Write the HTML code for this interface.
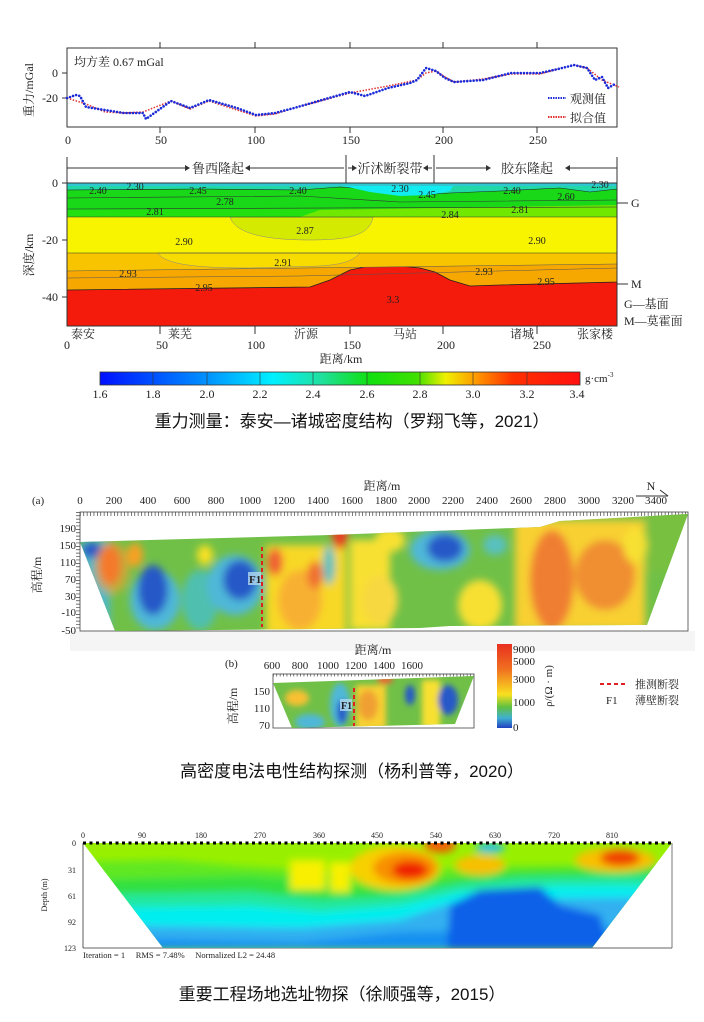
<!DOCTYPE html>
<html><head><meta charset="utf-8">
<style>
html,body{margin:0;padding:0;background:#fff;}
svg{display:block;}
text{font-family:"Liberation Serif","Noto Serif CJK SC",serif;fill:#222;}
.cap{font-family:"Liberation Sans","Noto Sans CJK SC",sans-serif;font-size:17px;fill:#111;}
</style></head>
<body>
<svg width="704" height="1022" viewBox="0 0 704 1022" xmlns="http://www.w3.org/2000/svg">
<defs>
<filter id="b4" x="-10%" y="-10%" width="120%" height="120%"><feGaussianBlur stdDeviation="4"/></filter>
<filter id="b3" x="-10%" y="-10%" width="120%" height="120%"><feGaussianBlur stdDeviation="3"/></filter>
<linearGradient id="cb" x1="0" x2="1" y1="0" y2="0">
<stop offset="0" stop-color="#0010ff"/><stop offset="0.22" stop-color="#0090ff"/>
<stop offset="0.36" stop-color="#00f0ff"/><stop offset="0.46" stop-color="#20e0a0"/>
<stop offset="0.56" stop-color="#10e010"/><stop offset="0.66" stop-color="#40e000"/>
<stop offset="0.72" stop-color="#f0f000"/><stop offset="0.79" stop-color="#ff9000"/>
<stop offset="0.86" stop-color="#ff3000"/><stop offset="1" stop-color="#ff1010"/>
</linearGradient>
<linearGradient id="cb2" x1="0" x2="0" y1="0" y2="1">
<stop offset="0" stop-color="#e83020"/><stop offset="0.3" stop-color="#f07020"/>
<stop offset="0.6" stop-color="#f8e020"/><stop offset="0.75" stop-color="#60c040"/>
<stop offset="0.88" stop-color="#40b0d0"/><stop offset="1" stop-color="#2040c0"/>
</linearGradient>
<clipPath id="cp2"><polygon points="80,542 330,535 540,527 560,521 688,514 647,625 450,626 420,628 115,631"/></clipPath>
<clipPath id="cp2b"><polygon points="273,683 474,676 455,724 292,728"/></clipPath>
<clipPath id="cp3"><polygon points="83,843 672,843 592,948 163,948"/></clipPath>
</defs>

<!-- ===== Figure 1: gravity ===== -->
<rect x="67" y="48" width="550" height="79" fill="none" stroke="#333" stroke-width="1"/>
<g stroke="#333" stroke-width="1">
<line x1="160" y1="42" x2="160" y2="48"/><line x1="255" y1="42" x2="255" y2="48"/><line x1="350" y1="42" x2="350" y2="48"/><line x1="443" y1="42" x2="443" y2="48"/><line x1="537" y1="42" x2="537" y2="48"/>
<line x1="160" y1="127" x2="160" y2="133"/><line x1="255" y1="127" x2="255" y2="133"/><line x1="350" y1="127" x2="350" y2="133"/><line x1="443" y1="127" x2="443" y2="133"/><line x1="537" y1="127" x2="537" y2="133"/>
<line x1="62" y1="73" x2="67" y2="73"/><line x1="62" y1="98" x2="67" y2="98"/>
</g>
<text x="74" y="66" font-size="12">均方差 0.67 mGal</text>
<text x="58" y="77" font-size="12" text-anchor="end">0</text>
<text x="58" y="102" font-size="12" text-anchor="end">-20</text>
<text transform="translate(33,90) rotate(-90)" font-size="12" text-anchor="middle">重力/mGal</text>
<g font-size="12" text-anchor="middle">
<text x="68" y="144">0</text><text x="161" y="144">50</text><text x="256" y="144">100</text><text x="351" y="144">150</text><text x="444" y="144">200</text><text x="538" y="144">250</text>
</g>
<polyline fill="none" stroke="#e03030" stroke-width="1.5" stroke-dasharray="1.5 1.5" points="67,98 86,104 105,112 124,113 143,112 171,101 190,109 209,101 237,110 256,116 275,114 294,108 350,93 388,86 417,80 426,73 436,71 445,77 454,82 483,79 511,74 540,74 558,69 574,65 587,68 602,80 619,87"/>
<polyline fill="none" stroke="#1a2ad8" stroke-width="2.6" stroke-linecap="round" stroke-dasharray="0 3.2" points="67,98 76,95 80,96 86,107 105,110 124,113 143,113 146,119 171,101 190,108 209,100 237,108 256,115 275,113 294,108 350,92 365,96 388,88 410,83 417,80 426,68 436,71 445,78 454,82 483,80 511,73 540,73 558,69 574,65 587,68 595,80 602,77 608,88 615,84"/>
<line x1="548" y1="98" x2="566" y2="98" stroke="#1a2ad8" stroke-width="2" stroke-dasharray="1.5 1"/>
<line x1="548" y1="117" x2="566" y2="117" stroke="#e03030" stroke-width="2" stroke-dasharray="1.5 1"/>
<text x="570" y="103" font-size="12">观测值</text>
<text x="570" y="122" font-size="12">拟合值</text>

<!-- section -->
<g stroke="#333" stroke-width="1">
<line x1="67" y1="157" x2="67" y2="183"/><line x1="346" y1="155" x2="346" y2="183"/><line x1="434" y1="155" x2="434" y2="183"/><line x1="617" y1="157" x2="617" y2="183"/>
<line x1="67" y1="168" x2="185" y2="168"/><line x1="250" y1="168" x2="344" y2="168"/>
<line x1="348" y1="168" x2="353" y2="168"/><line x1="426" y1="168" x2="432" y2="168"/>
<line x1="436" y1="168" x2="486" y2="168"/><line x1="570" y1="168" x2="617" y2="168"/>
</g>
<g fill="#333"><polygon points="185,165 190,168 185,171"/><polygon points="250,165 245,168 250,171"/><polygon points="352,165 357,168 352,171"/><polygon points="428,165 423,168 428,171"/><polygon points="486,165 491,168 486,171"/><polygon points="570,165 565,168 570,171"/></g>
<text x="218" y="173" font-size="13" text-anchor="middle">鲁西隆起</text>
<text x="390" y="173" font-size="13" text-anchor="middle">沂沭断裂带</text>
<text x="527" y="173" font-size="13" text-anchor="middle">胶东隆起</text>

<rect x="67" y="183" width="550" height="143" fill="#f41a0c"/>
<path d="M67,183 H617 V282 L500,285 L470,286 L450,280 L435,272 L420,268 L400,266 L370,266 L350,270 L330,280 L310,287 L67,290 Z" fill="#f7a800" stroke="#222" stroke-width="0.8"/>
<path d="M67,183 H617 V264 L67,271 Z" fill="#f8c400"/>
<path d="M67,271 L617,264 M67,278 L300,276 L617,268" stroke="#555" stroke-width="0.5" fill="none"/>
<path d="M67,183 H617 V253 L67,253 Z" fill="#f8f400"/>
<path d="M158,253 C165,265 200,268 250,268 L320,266 C350,264 355,258 360,253 Z" fill="#f8dc00" stroke="#888" stroke-width="0.5"/>
<path d="M67,183 H617 V217 L67,217 Z" fill="#18d818"/>
<path d="M230,217 C235,232 260,240 310,240 C350,240 370,235 373,217 Z" fill="#d4ea00" stroke="#888" stroke-width="0.5"/>
<path d="M67,210 L617,207 L617,217 L67,217 Z" fill="#22e010"/>
<path d="M300,217 L320,210 L617,205 L617,217 Z" fill="#70e800"/>
<path d="M67,183 H617 V189 L590,192 L560,188 L500,191 L450,193 L420,195 L380,190 L340,187 L300,190 L200,189 L67,190 Z" fill="#20d8a8" stroke="#222" stroke-width="0.6"/>
<path d="M330,183 L455,183 L450,191 L430,195 L400,196 L370,192 Z" fill="#10ecf0"/>
<path d="M67,183 H617 V186 L67,186 Z" fill="#30c8d0"/>
<g stroke="#333" stroke-width="0.6" fill="none">
<path d="M67,198 L300,196 L400,202 L617,200"/>
<path d="M67,209 L617,207"/><path d="M67,217 H617"/><path d="M67,253 H617"/>
</g>
<rect x="67" y="183" width="550" height="143" fill="none" stroke="#333"/>
<g font-size="10" fill="#222" text-anchor="middle">
<text x="98" y="194">2.40</text><text x="135" y="190">2.30</text><text x="198" y="194">2.45</text><text x="298" y="194">2.40</text><text x="400" y="192">2.30</text><text x="427" y="198">2.45</text><text x="512" y="194">2.40</text><text x="566" y="200">2.60</text><text x="600" y="188">2.30</text>
<text x="225" y="205">2.78</text><text x="155" y="215">2.81</text><text x="450" y="218">2.84</text><text x="520" y="213">2.81</text>
<text x="305" y="234">2.87</text><text x="184" y="245">2.90</text><text x="537" y="244">2.90</text>
<text x="283" y="266">2.91</text><text x="128" y="277">2.93</text><text x="484" y="275">2.93</text>
<text x="204" y="291">2.95</text><text x="546" y="285">2.95</text><text x="393" y="303">3.3</text>
</g>
<g stroke="#333"><line x1="617" y1="203" x2="628" y2="203"/><line x1="617" y1="284" x2="628" y2="284"/><line x1="62" y1="183" x2="67" y2="183"/><line x1="62" y1="240" x2="67" y2="240"/><line x1="62" y1="297" x2="67" y2="297"/></g>
<text x="631" y="207" font-size="12">G</text><text x="631" y="288" font-size="12">M</text>
<text x="624" y="308" font-size="12">G—基面</text><text x="624" y="325" font-size="12">M—莫霍面</text>
<g font-size="12" text-anchor="end"><text x="58" y="187">0</text><text x="58" y="244">-20</text><text x="58" y="301">-40</text></g>
<text transform="translate(33,255) rotate(-90)" font-size="12" text-anchor="middle">深度/km</text>
<g stroke="#333"><line x1="160" y1="326" x2="160" y2="334"/><line x1="255" y1="326" x2="255" y2="334"/><line x1="350" y1="326" x2="350" y2="334"/><line x1="443" y1="326" x2="443" y2="334"/><line x1="537" y1="326" x2="537" y2="334"/></g>
<g font-size="12"><text x="71" y="338">泰安</text><text x="168" y="338">莱芜</text><text x="294" y="338">沂源</text><text x="393" y="338">马站</text><text x="510" y="338">诸城</text><text x="577" y="338">张家楼</text></g>
<g font-size="12" text-anchor="middle"><text x="67" y="349">0</text><text x="162" y="349">50</text><text x="256" y="349">100</text><text x="352" y="349">150</text><text x="446" y="349">200</text><text x="542" y="349">250</text></g>
<text x="341" y="363" font-size="12" text-anchor="middle">距离/km</text>
<rect x="100" y="372" width="480" height="13" fill="url(#cb)" stroke="#333" stroke-width="0.8"/>
<g stroke="#333" stroke-width="0.6"><line x1="153" y1="372" x2="153" y2="385"/><line x1="207" y1="372" x2="207" y2="385"/><line x1="260" y1="372" x2="260" y2="385"/><line x1="313" y1="372" x2="313" y2="385"/><line x1="367" y1="372" x2="367" y2="385"/><line x1="420" y1="372" x2="420" y2="385"/><line x1="473" y1="372" x2="473" y2="385"/><line x1="527" y1="372" x2="527" y2="385"/></g>
<g font-size="12" text-anchor="middle"><text x="100" y="398">1.6</text><text x="153" y="398">1.8</text><text x="207" y="398">2.0</text><text x="260" y="398">2.2</text><text x="313" y="398">2.4</text><text x="367" y="398">2.6</text><text x="420" y="398">2.8</text><text x="473" y="398">3.0</text><text x="527" y="398">3.2</text><text x="577" y="398">3.4</text></g>
<text x="585" y="382" font-size="11">g·cm<tspan font-size="7" dy="-5">-3</tspan></text>
<text x="352" y="427" class="cap" text-anchor="middle">重力测量：泰安—诸城密度结构（罗翔飞等，2021）</text>

<!-- ===== Figure 2 ===== -->
<rect x="70" y="631" width="625" height="20" fill="#f5f5f5"/>
<text x="382" y="490" font-size="12" text-anchor="middle">距离/m</text>
<text x="32" y="504" font-size="11">(a)</text>
<g font-size="11" text-anchor="middle">
<text x="80" y="504">0</text><text x="114" y="504">200</text><text x="148" y="504">400</text><text x="182" y="504">600</text><text x="216" y="504">800</text><text x="250" y="504">1000</text><text x="284" y="504">1200</text><text x="318" y="504">1400</text><text x="352" y="504">1600</text><text x="386" y="504">1800</text><text x="419" y="504">2000</text><text x="453" y="504">2200</text><text x="487" y="504">2400</text><text x="521" y="504">2600</text><text x="555" y="504">2800</text><text x="589" y="504">3000</text><text x="623" y="504">3200</text><text x="656" y="504">3400</text>
</g>
<text x="651" y="490" font-size="12" text-anchor="middle">N</text>
<line x1="636" y1="496" x2="668" y2="496" stroke="#333"/><line x1="660" y1="490" x2="668" y2="496" stroke="#333"/>
<rect x="80" y="512" width="608" height="119" fill="#fff" stroke="#444" stroke-width="0.8"/>
<path d="M80,514 H688" stroke="#444" stroke-width="4" stroke-dasharray="0.7 2.7"/>
<path d="M78,512 V631" stroke="#444" stroke-width="4" stroke-dasharray="0.7 2.7"/>
<g clip-path="url(#cp2)">
<rect x="75" y="505" width="620" height="130" fill="#70c048"/>
<g filter="url(#b4)">
<rect x="80" y="540" width="30" height="90" fill="#50b8c8"/>
<ellipse cx="92" cy="550" rx="10" ry="8" fill="#2858c8"/>
<ellipse cx="110" cy="565" rx="11" ry="20" fill="#f04020"/>
<ellipse cx="112" cy="568" rx="18" ry="26" fill="#f8a030" opacity="0.6"/>
<ellipse cx="135" cy="555" rx="8" ry="12" fill="#f8a020"/>
<ellipse cx="155" cy="600" rx="25" ry="30" fill="#50b8d8"/>
<ellipse cx="153" cy="590" rx="15" ry="25" fill="#2858c8"/>
<ellipse cx="200" cy="600" rx="18" ry="30" fill="#50c0b0"/>
<ellipse cx="205" cy="555" rx="8" ry="10" fill="#f8e020"/>
<ellipse cx="235" cy="585" rx="28" ry="30" fill="#50b8d8"/>
<ellipse cx="240" cy="580" rx="17" ry="20" fill="#2858c8"/>
<rect x="266" y="545" width="80" height="90" fill="#f8d828"/>
<ellipse cx="275" cy="562" rx="8" ry="14" fill="#f06030"/>
<ellipse cx="300" cy="600" rx="22" ry="30" fill="#f8b030"/>
<ellipse cx="315" cy="575" rx="8" ry="14" fill="#f07030"/>
<ellipse cx="340" cy="535" rx="8" ry="14" fill="#e84020"/>
<ellipse cx="329" cy="565" rx="6" ry="20" fill="#58c0c0"/>
<rect x="350" y="540" width="40" height="90" fill="#f8e030"/>
<ellipse cx="380" cy="600" rx="18" ry="25" fill="#f8d840"/>
<ellipse cx="440" cy="550" rx="30" ry="20" fill="#50b8d8"/>
<ellipse cx="445" cy="548" rx="18" ry="14" fill="#2858c8"/>
<ellipse cx="390" cy="540" rx="15" ry="12" fill="#f8e030"/>
<ellipse cx="480" cy="605" rx="22" ry="25" fill="#f8e030"/>
<ellipse cx="495" cy="545" rx="12" ry="10" fill="#58c0c0"/>
<rect x="515" y="520" width="130" height="110" fill="#f8d030"/>
<ellipse cx="552" cy="580" rx="22" ry="50" fill="#f07e30"/>
<ellipse cx="605" cy="575" rx="30" ry="35" fill="#f08e30"/>
<ellipse cx="635" cy="545" rx="12" ry="18" fill="#f8e030"/>
<rect x="648" y="512" width="45" height="60" fill="#78c040"/>
</g>
</g>
<line x1="262" y1="547" x2="262" y2="627" stroke="#e02020" stroke-width="2" stroke-dasharray="4 3"/>
<rect x="248" y="572" width="13" height="13" fill="#b0d8f0" opacity="0.8"/>
<text x="249" y="583" font-size="11" font-weight="bold">F1</text>
<g font-size="11" text-anchor="end"><text x="76" y="532">190</text><text x="76" y="549">150</text><text x="76" y="566">110</text><text x="76" y="583">70</text><text x="76" y="600">30</text><text x="76" y="616">-10</text><text x="76" y="634">-50</text></g>
<text transform="translate(41,575) rotate(-90)" font-size="12" text-anchor="middle">高程/m</text>

<!-- sub b -->
<text x="373" y="654" font-size="12" text-anchor="middle">距离/m</text>
<text x="225" y="667" font-size="11">(b)</text>
<g font-size="11" text-anchor="middle"><text x="272" y="669">600</text><text x="300" y="669">800</text><text x="328" y="669">1000</text><text x="356" y="669">1200</text><text x="384" y="669">1400</text><text x="412" y="669">1600</text></g>
<rect x="273" y="674" width="201" height="54" fill="#fff" stroke="#444" stroke-width="0.8"/>
<path d="M273,675 H474" stroke="#444" stroke-width="3" stroke-dasharray="0.7 2.7"/>
<g clip-path="url(#cp2b)">
<rect x="270" y="670" width="210" height="60" fill="#70c048"/>
<g filter="url(#b3)">
<ellipse cx="297" cy="698" rx="12" ry="8" fill="#f8c030"/>
<ellipse cx="310" cy="722" rx="15" ry="8" fill="#50b8d8"/>
<ellipse cx="340" cy="705" rx="10" ry="22" fill="#50b8d8"/>
<ellipse cx="342" cy="712" rx="5" ry="12" fill="#2858c8"/>
<rect x="356" y="685" width="30" height="45" fill="#f8d030"/>
<ellipse cx="368" cy="705" rx="10" ry="15" fill="#f0a030"/>
<ellipse cx="410" cy="695" rx="5" ry="10" fill="#2858c8"/>
<rect x="422" y="680" width="18" height="50" fill="#f8e030"/>
<ellipse cx="448" cy="700" rx="10" ry="15" fill="#2858c8"/>
<ellipse cx="385" cy="680" rx="8" ry="4" fill="#f06030"/>
</g>
</g>
<line x1="354" y1="688" x2="354" y2="726" stroke="#e02020" stroke-width="2" stroke-dasharray="4 3"/>
<rect x="340" y="699" width="12" height="12" fill="#b0d8f0" opacity="0.8"/>
<text x="341" y="709" font-size="10" font-weight="bold">F1</text>
<g font-size="11" text-anchor="end"><text x="270" y="695">150</text><text x="270" y="712">110</text><text x="270" y="729">70</text></g>
<text transform="translate(237,706) rotate(-90)" font-size="12" text-anchor="middle">高程/m</text>
<rect x="497" y="644" width="15" height="84" fill="url(#cb2)"/>
<g font-size="11"><text x="513" y="653">9000</text><text x="513" y="665">5000</text><text x="513" y="683">3000</text><text x="513" y="706">1000</text><text x="513" y="731">0</text></g>
<text transform="translate(552,686) rotate(-90)" font-size="11" text-anchor="middle">ρ/(Ω · m)</text>
<line x1="600" y1="684" x2="626" y2="684" stroke="#e02020" stroke-width="2" stroke-dasharray="4 3"/>
<text x="635" y="688" font-size="11">推测断裂</text>
<text x="606" y="704" font-size="11">F1</text><text x="635" y="704" font-size="11">薄壁断裂</text>
<text x="352" y="777" class="cap" text-anchor="middle">高密度电法电性结构探测（杨利普等，2020）</text>

<!-- ===== Figure 3 ===== -->
<g font-size="8" text-anchor="middle"><text x="83" y="838">0</text><text x="142" y="838">90</text><text x="201" y="838">180</text><text x="260" y="838">270</text><text x="319" y="838">360</text><text x="377" y="838">450</text><text x="436" y="838">540</text><text x="495" y="838">630</text><text x="554" y="838">720</text><text x="612" y="838">810</text></g>
<g font-size="8" text-anchor="end"><text x="76" y="846">0</text><text x="76" y="873">31</text><text x="76" y="899">61</text><text x="76" y="925">92</text><text x="76" y="951">123</text></g>
<text transform="translate(47,895) rotate(-90)" font-size="8" text-anchor="middle">Depth (m)</text>
<line x1="83" y1="843" x2="83" y2="948" stroke="#333" stroke-width="0.8"/>
<line x1="83" y1="948" x2="672" y2="948" stroke="#333" stroke-width="0.8"/>
<line x1="672" y1="843" x2="672" y2="948" stroke="#555" stroke-width="0.8"/>
<g clip-path="url(#cp3)">
<rect x="80" y="840" width="600" height="110" fill="#98f000"/>
<g filter="url(#b4)">
<path d="M80,862 L170,860 L240,866 L300,870 L360,872 L420,870 L500,866 L680,864 V950 H80 Z" fill="#60e820"/>
<path d="M80,880 L250,876 L300,880 L360,888 L420,882 L500,872 L680,868 V950 H80 Z" fill="#30e040"/>
<path d="M80,895 L250,892 L320,900 L400,896 L460,884 L520,878 L680,876 V950 H80 Z" fill="#20e8a0"/>
<path d="M80,908 L250,906 L320,912 L400,906 L460,892 L560,886 L680,886 V950 H80 Z" fill="#00eef0"/>
<path d="M80,925 L300,928 L400,920 L460,900 L680,897 V950 H80 Z" fill="#30b0f0"/>
<path d="M80,937 L300,942 L400,932 L680,928 V950 H80 Z" fill="#1890f0"/>
<path d="M447,950 L450,905 L480,890 L540,887 L560,905 L600,915 L610,950 Z" fill="#1060e8"/>
<rect x="290" y="860" width="35" height="30" fill="#f8f000"/>
<rect x="330" y="862" width="20" height="30" fill="#f8f000"/>
<ellipse cx="395" cy="868" rx="45" ry="22" fill="#f8d000"/>
<ellipse cx="405" cy="868" rx="32" ry="16" fill="#f89000"/>
<ellipse cx="410" cy="870" rx="18" ry="9" fill="#f02000"/>
<ellipse cx="440" cy="845" rx="16" ry="8" fill="#f06000"/>
<ellipse cx="480" cy="865" rx="25" ry="10" fill="#f8c000"/>
<ellipse cx="615" cy="860" rx="40" ry="12" fill="#f8c000"/>
<ellipse cx="620" cy="858" rx="20" ry="8" fill="#f04000"/>
<ellipse cx="490" cy="848" rx="15" ry="5" fill="#20c0f0"/>
</g>
</g>
<line x1="83" y1="843" x2="672" y2="843" stroke="#000" stroke-width="3" stroke-dasharray="3 3.5"/>
<text x="83" y="958" font-size="8.5" xml:space="preserve">Iteration = 1     RMS = 7.48%     Normalized L2 = 24.48</text>
<text x="342" y="1000" class="cap" text-anchor="middle">重要工程场地选址物探（徐顺强等，2015）</text>
</svg>
</body></html>
